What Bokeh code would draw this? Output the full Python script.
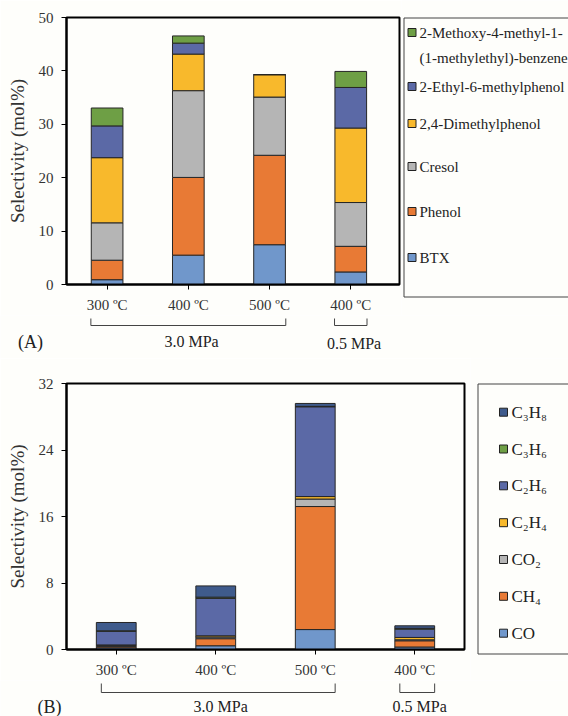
from bokeh.plotting import figure
from bokeh.layouts import column, row
from bokeh.models import ColumnDataSource, FixedTicker, Range1d
from bokeh.core.properties import value
from bokeh.embed import file_html
from bokeh.resources import INLINE

# ---------------- data ----------------
temps = ["300 ºC", "400 ºC", "500 ºC", "400 ºC"]
pressures = ["3.0 MPa", "0.5 MPa"]
pressure_groups = [[0, 1, 2], [3]]

# Panel A: liquid products (mol%)
btx = [0.9, 5.5, 7.45, 2.35]
phenol = [3.65, 14.55, 16.75, 4.8]
cresol = [7.0, 16.25, 10.9, 8.2]
dmp = [12.2, 6.85, 4.2, 13.95]
emp = [5.95, 2.05, 0.0, 7.6]
methoxy = [3.35, 1.35, 0.0, 3.0]
names_a = ["BTX", "Phenol", "Cresol", "2,4-Dimethylphenol",
           "2-Ethyl-6-methylphenol", "2-Methoxy-4-methyl-1-\n(1-methylethyl)-benzene"]

# Panel B: gas products (mol%)
co = [0.2, 0.45, 2.4, 0.3]
ch4 = [0.15, 0.85, 14.8, 0.75]
co2 = [0.15, 0.2, 0.9, 0.12]
c2h4 = [0.05, 0.15, 0.3, 0.28]
c2h6 = [1.65, 4.5, 10.8, 1.0]
c3h6 = [0.05, 0.15, 0.05, 0.1]
c3h8 = [1.0, 1.35, 0.35, 0.3]
names_b = ["CO", "CH\u2084", "CO\u2082", "C\u2082H\u2084", "C\u2082H\u2086", "C\u2083H\u2086", "C\u2083H\u2088"]

yticks_a = [0, 10, 20, 30, 40, 50]
yticks_b = [0, 8, 16, 24, 32]

# ---------------- style ----------------
FONT = "Liberation Serif"
BG = "#fefefb"
C_LBLUE = "#7097cb"
C_ORANGE = "#e87a35"
C_GRAY = "#b5b5b5"
C_YELLOW = "#f8b92c"
C_BLUE = "#5b69a6"
C_GREEN = "#6e9f45"
C_DBLUE = "#3f5b8c"
colors_a = [C_LBLUE, C_ORANGE, C_GRAY, C_YELLOW, C_BLUE, C_GREEN]
colors_b = [C_LBLUE, C_ORANGE, C_GRAY, C_YELLOW, C_BLUE, C_GREEN, C_DBLUE]

xpos = list(range(len(temps)))
TOTAL_W = 568


def style_chart(p, yticks):
    p.frame_align = False
    p.background_fill_color = BG
    p.border_fill_color = BG
    p.outline_line_color = "black"
    p.outline_line_width = 2
    p.xgrid.grid_line_color = None
    p.ygrid.grid_line_color = None
    for ax in (p.xaxis, p.yaxis):
        ax.axis_line_color = "black"
        ax.axis_line_width = 2
        ax.major_tick_line_color = "black"
        ax.major_tick_line_width = 1
        ax.major_tick_out = 5
        ax.major_tick_in = 0
        ax.minor_tick_line_color = None
        ax.major_label_text_font = FONT
        ax.major_label_text_font_size = "15px"
        ax.major_label_text_color = "#333333"
    p.xaxis.ticker = FixedTicker(ticks=xpos)
    p.xaxis.major_label_overrides = {i: t for i, t in enumerate(temps)}
    p.xaxis.major_label_standoff = 7
    p.yaxis.ticker = FixedTicker(ticks=yticks)
    p.yaxis.major_label_standoff = 8
    p.yaxis.axis_label = "Selectivity (mol%)"
    p.yaxis.axis_label_text_font = FONT
    p.yaxis.axis_label_text_font_size = "19px"
    p.yaxis.axis_label_text_font_style = "normal"
    p.yaxis.axis_label_text_color = "#333333"
    p.yaxis.axis_label_standoff = 8


def blank_fig(w, h, x_range=None):
    p = figure(width=w, height=h, x_range=x_range or Range1d(0, w), y_range=Range1d(h, 0),
               x_axis_location=None, y_axis_location=None, toolbar_location=None,
               output_backend="svg", min_border=0)
    p.frame_align = False
    p.background_fill_color = BG
    p.border_fill_color = BG
    p.outline_line_color = None
    p.xgrid.grid_line_color = None
    p.ygrid.grid_line_color = None
    return p


# ================= Panel A =================
A_W, A_H = 401, 315
A_LEFT, A_RIGHT, A_TOP, A_BOT = 66, 2, 17, 28
xr_a = (-0.5, 3.6)
pa = figure(width=A_W, height=A_H, x_range=Range1d(*xr_a), y_range=Range1d(0, 50),
            toolbar_location=None, output_backend="svg",
            min_border_left=A_LEFT, min_border_right=A_RIGHT,
            min_border_top=A_TOP, min_border_bottom=A_BOT)
src_a = ColumnDataSource(dict(x=xpos, btx=btx, phenol=phenol, cresol=cresol,
                              dmp=dmp, emp=emp, methoxy=methoxy))
pa.vbar_stack(["btx", "phenol", "cresol", "dmp", "emp", "methoxy"], x="x", width=0.39,
              source=src_a, fill_color=colors_a, line_color="#262626", line_width=1)
style_chart(pa, yticks_a)

# legend A
LA_W = TOTAL_W - A_W
la = blank_fig(LA_W, A_H)
la.quad(left=[2.5], right=[LA_W + 5], top=[17.5], bottom=[296.5],
        fill_color=None, line_color="#444444", line_width=1)
leg_y_a = [257, 211, 166, 123, 86, 32]
la.scatter(x=[10.5] * 6, y=leg_y_a, marker="square", size=8,
           fill_color=colors_a, line_color="#222222", line_width=1)
txt_a = []
ty_a = []
for n, y in zip(names_a, leg_y_a):
    for k, ln in enumerate(n.split("\n")):
        txt_a.append(ln)
        ty_a.append(y + 25 * k)
la.text(x=[18] * len(txt_a), y=ty_a, text=txt_a, text_font=value(FONT),
        text_font_size="15px", text_baseline="middle", text_align="left",
        text_color="#222222")

# brackets A
BA_H = 43
ppu_a = (A_W - A_LEFT - A_RIGHT) / (xr_a[1] - xr_a[0])
ba = blank_fig(TOTAL_W, BA_H,
               x_range=Range1d(xr_a[0] - A_LEFT / ppu_a, xr_a[0] + (TOTAL_W - A_LEFT) / ppu_a))
for grp, lab, dy in zip(pressure_groups, pressures, [26, 28]):
    x0, x1 = min(grp) - 0.2, max(grp) + 0.2
    ba.line(x=[x0, x0, x1, x1], y=[3, 10, 10, 3], line_color="#444444", line_width=1)
    ba.text(x=[(min(grp) + max(grp)) / 2 + 0.04], y=[dy], text=[lab], text_font=value(FONT),
            text_font_size="16px", text_baseline="middle", text_align="center",
            text_color="#222222")
ba.text(x=[xr_a[0] - (A_LEFT - 30) / ppu_a], y=[26], text=["(A)"], text_font=value(FONT),
        text_font_size="18px", text_baseline="middle", text_align="center",
        text_color="#222222")

# ================= Panel B =================
B_W, B_H = 470, 322
B_LEFT, B_RIGHT, B_TOP, B_BOT = 66, 6, 25, 28
xr_b = (-0.5, 3.5)
pb = figure(width=B_W, height=B_H, x_range=Range1d(*xr_b), y_range=Range1d(0, 32),
            toolbar_location=None, output_backend="svg",
            min_border_left=B_LEFT, min_border_right=B_RIGHT,
            min_border_top=B_TOP, min_border_bottom=B_BOT)
src_b = ColumnDataSource(dict(x=xpos, co=co, ch4=ch4, co2=co2, c2h4=c2h4,
                              c2h6=c2h6, c3h6=c3h6, c3h8=c3h8))
pb.vbar_stack(["co", "ch4", "co2", "c2h4", "c2h6", "c3h6", "c3h8"], x="x", width=0.4,
              source=src_b, fill_color=colors_b, line_color="#262626", line_width=1)
style_chart(pb, yticks_b)

# legend B
LB_W = TOTAL_W - B_W
lb = blank_fig(LB_W, B_H)
lb.quad(left=[7.5], right=[LB_W + 5], top=[25.5], bottom=[295.5],
        fill_color=None, line_color="#444444", line_width=1)
leg_y_b = [274.7, 237.8, 201, 164.2, 127.3, 90.5, 53.7]
lb.scatter(x=[33] * 7, y=leg_y_b, marker="square", size=8,
           fill_color=colors_b, line_color="#222222", line_width=1)
lb.text(x=[41] * 7, y=leg_y_b, text=names_b, text_font=value(FONT),
        text_font_size="17px", text_baseline="middle", text_align="left",
        text_color="#222222")

# brackets B
BB_H = 716 - 315 - 43 - 322
ppu_b = (B_W - B_LEFT - B_RIGHT) / (xr_b[1] - xr_b[0])
bb = blank_fig(TOTAL_W, BB_H,
               x_range=Range1d(xr_b[0] - B_LEFT / ppu_b, xr_b[0] + (TOTAL_W - B_LEFT) / ppu_b))
for grp, lab in zip(pressure_groups, pressures):
    x0, x1 = min(grp) - 0.15, max(grp) + 0.2
    bb.line(x=[x0, x0, x1, x1], y=[3, 12, 12, 3], line_color="#444444", line_width=1)
    bb.text(x=[(min(grp) + max(grp)) / 2 + 0.05], y=[26], text=[lab], text_font=value(FONT),
            text_font_size="16px", text_baseline="middle", text_align="center",
            text_color="#222222")
bb.text(x=[xr_b[0] - (B_LEFT - 49) / ppu_b], y=[26], text=["(B)"], text_font=value(FONT),
        text_font_size="18px", text_baseline="middle", text_align="center",
        text_color="#222222")

layout = column(row(pa, la), ba, row(pb, lb), bb)
open("out.html", "w").write(file_html(layout, INLINE))
